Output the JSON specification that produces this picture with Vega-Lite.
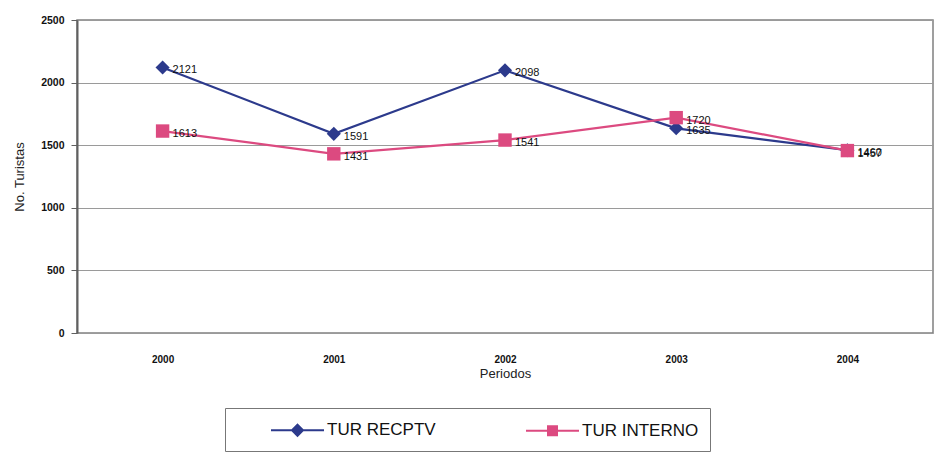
{
  "$schema": "https://vega.github.io/schema/vega-lite/v6.json",
  "width": 856,
  "height": 313,
  "autosize": {"type": "none"},
  "padding": {"left": 77, "top": 20, "right": 3, "bottom": 119},
  "background": "white",
  "config": {
    "font": "Liberation Sans",
    "view": {"stroke": "#808080", "strokeWidth": 1.5},
    "axis": {"labelFont": "Liberation Sans", "titleFont": "Liberation Sans", "labelColor": "#111", "titleColor": "#222"}
  },
  "data": {
    "values": [
      {"periodo": "2000", "serie": "TUR RECPTV", "valor": 2121},
      {"periodo": "2001", "serie": "TUR RECPTV", "valor": 1591},
      {"periodo": "2002", "serie": "TUR RECPTV", "valor": 2098},
      {"periodo": "2003", "serie": "TUR RECPTV", "valor": 1635},
      {"periodo": "2004", "serie": "TUR RECPTV", "valor": 1460},
      {"periodo": "2000", "serie": "TUR INTERNO", "valor": 1613},
      {"periodo": "2001", "serie": "TUR INTERNO", "valor": 1431},
      {"periodo": "2002", "serie": "TUR INTERNO", "valor": 1541},
      {"periodo": "2003", "serie": "TUR INTERNO", "valor": 1720},
      {"periodo": "2004", "serie": "TUR INTERNO", "valor": 1457}
    ]
  },
  "encoding": {
    "x": {
      "field": "periodo", "type": "ordinal", "title": "Periodos",
      "axis": {"labelAngle": 0, "ticks": false, "domain": false, "labelPadding": 21, "labelFontSize": 10, "labelFontWeight": "bold", "titleFontSize": 13, "titleFontWeight": "normal", "titlePadding": 3, "grid": false}
    },
    "y": {
      "field": "valor", "type": "quantitative", "title": "No. Turistas",
      "scale": {"domain": [0, 2500], "nice": false},
      "axis": {"values": [0, 500, 1000, 1500, 2000, 2500], "format": "d", "gridColor": "#9a9a9a", "gridWidth": 1, "domainColor": "#606060", "domainWidth": 2, "tickColor": "#606060", "tickSize": 6, "labelPadding": 7, "labelFontSize": 10.5, "labelFontWeight": "bold", "titleFontSize": 13, "titleFontWeight": "normal", "titlePadding": 14}
    },
    "color": {
      "field": "serie", "type": "nominal",
      "scale": {"domain": ["TUR RECPTV", "TUR INTERNO"], "range": ["#2c3a8c", "#dc4a80"]},
      "legend": {
        "title": null,
        "orient": "none",
        "legendX": 148,
        "legendY": 388,
        "direction": "horizontal",
        "columns": 2,
        "padding": 11,
        "columnPadding": 55,
        "strokeColor": "#777",
        "fillColor": "white",
        "symbolSize": 400,
        "symbolStrokeWidth": 2,
        "labelFontSize": 17,
        "labelColor": "#111",
        "labelOffset": 69,
        "labelLimit": 250,
        "encode": {
          "symbols": {
            "update": {
              "shape": {"signal": "datum.value === 'TUR RECPTV' ? 'M2.4,0L7.7,0M5.05,-0.55L5.6,0L5.05,0.55L4.5,0Z' : 'M2.4,0L7.7,0M4.6,-0.45L5.5,-0.45L5.5,0.45L4.6,0.45Z'"},
              "fill": {"signal": "datum.value === 'TUR RECPTV' ? '#2c3a8c' : '#dc4a80'"},
              "stroke": {"signal": "datum.value === 'TUR RECPTV' ? '#2c3a8c' : '#dc4a80'"},
              "strokeWidth": {"value": 2},
              "opacity": {"value": 1},
              "fillOpacity": {"value": 1}
            }
          }
        }
      }
    }
  },
  "layer": [
    {"mark": {"type": "line", "strokeWidth": 2.2}},
    {
      "transform": [{"filter": "datum.serie === 'TUR RECPTV'"}],
      "mark": {"type": "point", "filled": true, "opacity": 1, "size": 200, "shape": "diamond"}
    },
    {
      "transform": [{"filter": "datum.serie === 'TUR INTERNO'"}],
      "mark": {"type": "point", "filled": true, "opacity": 1, "size": 180, "shape": "square"}
    },
    {
      "mark": {"type": "text", "align": "left", "dx": 10, "dy": 3, "fontSize": 11},
      "encoding": {
        "text": {"field": "valor", "type": "quantitative", "format": "d"},
        "color": {"value": "#111"}
      }
    }
  ]
}
